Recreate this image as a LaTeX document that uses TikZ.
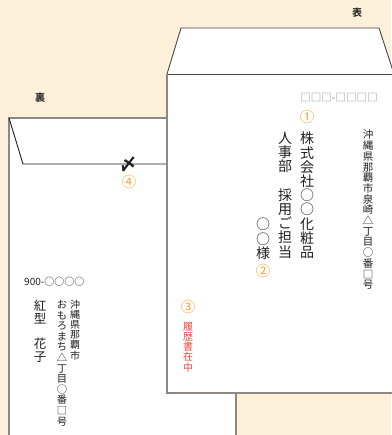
\documentclass[tikz,border=0pt]{standalone}
\usepackage{fontspec}
\newfontfamily\jp{Noto Sans CJK JP}
\newfontfamily\jpb{Noto Sans CJK JP Bold}
\definecolor{cream}{HTML}{FDF0DB}
\definecolor{backedge}{HTML}{8E8884}
\definecolor{frontedge}{HTML}{4A4545}
\definecolor{ink}{HTML}{231F20}
\definecolor{numorange}{HTML}{F5A534}
\definecolor{zipgray}{HTML}{8A8A8A}
\definecolor{redtext}{HTML}{E8453C}
\tikzset{
  vstack/.style={align=center, inner sep=0pt, anchor=north, text=ink},
  num/.style={inner sep=0pt, text=numorange, font={\jp\fontsize{14.5}{14.5}\selectfont}},
  sidelabel/.style={inner sep=0pt, text=ink, font={\jpb\fontsize{10}{10}\selectfont}},
}
\begin{document}
\begin{tikzpicture}[x=1pt,y=-1pt]
\useasboundingbox (0,0) rectangle (391,435);
\fill[cream] (0,0) rectangle (391,435);
% back envelope
\fill[white] (9,118) rectangle (236,440);
\draw[backedge, line width=1.3pt] (9,440) -- (9,118) -- (236,118) -- (236,440);
\draw[ink, line width=0.9pt] (9,118) -- (23,164) -- (167,164);
% front envelope
\fill[white] (167,74) -- (181,28) -- (379,28) -- (394,74) -- (394,393) -- (167,393) -- cycle;
\draw[frontedge, line width=0.9pt] (167,74) -- (181,28) -- (379,28) -- (394,74);
\draw[frontedge, line width=0.9pt] (167,74) -- (394,74);
\draw[backedge, line width=1.3pt] (167,74) -- (167,393) -- (394,393);
% labels
\node[sidelabel] (ura) at (40,98) {裏};
\node[sidelabel] (omote) at (357,13) {表};
% front text
\node[inner sep=0pt, text=zipgray, font={\jp\fontsize{10.5}{10.5}\selectfont}] (zip) at (339,98) {□□□-□□□□};
\node[num] (n1) at (307,117) {①};
\node[vstack, font={\jp\fontsize{10.5}{10.7}\selectfont}] (addr) at (368,130)
  {沖\\縄\\県\\那\\覇\\市\\泉\\崎\\△\\丁\\目\\○\\番\\□\\号};
\node[vstack, font={\jp\fontsize{14}{14.2}\selectfont}] (company) at (307,132)
  {株\\式\\会\\社\\○\\○\\化\\粧\\品};
\node[vstack, font={\jp\fontsize{14}{14.2}\selectfont}] (dept) at (285,132)
  {人\\事\\部\\　\\採\\用\\ご\\担\\当};
\node[vstack, font={\jp\fontsize{14}{14.2}\selectfont}] (sama) at (263,218)
  {○\\○\\様};
\node[num] (n2) at (263,271) {②};
\node[num] (n3) at (188,307) {③};
\node[vstack, text=redtext, font={\jp\fontsize{10}{10.2}\selectfont}] (rireki) at (188,322)
  {履\\歴\\書\\在\\中};
% back text
\node[inner sep=0pt, anchor=west, text=ink, font={\jp\fontsize{10}{10}\selectfont}] (bzip) at (24,282) {900-○○○○};
\node[vstack, font={\jp\fontsize{10}{10.1}\selectfont}] (baddr1) at (75,300)
  {沖\\縄\\県\\那\\覇\\市};
\node[vstack, font={\jp\fontsize{10.3}{10.6}\selectfont}] (baddr2) at (62,300)
  {お\\も\\ろ\\ま\\ち\\△\\丁\\目\\○\\番\\□\\号};
\node[vstack, font={\jp\fontsize{12.5}{12.6}\selectfont}] (bname) at (40,300)
  {紅\\型\\　\\花\\子};
\node[inner sep=0pt, text=ink, font={\jpb\fontsize{17}{17}\selectfont}] (seal) at (128,164) {〆};
\node[num] (n4) at (129,182) {④};
\end{tikzpicture}
\end{document}
